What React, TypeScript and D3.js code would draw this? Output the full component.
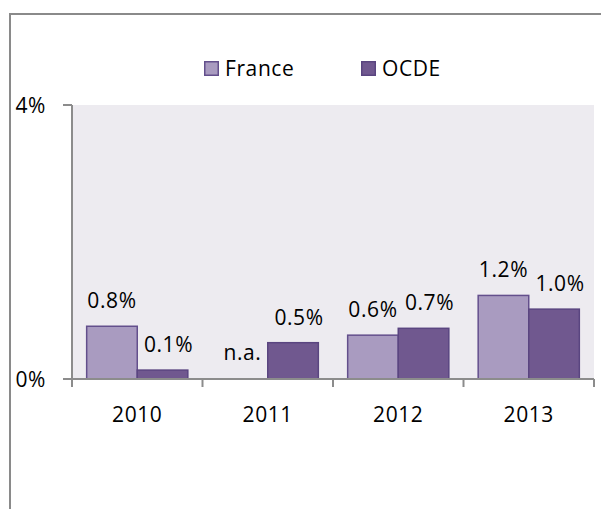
import * as d3 from "d3";
import { useEffect, useRef } from "react";

const YEARS = ["2010", "2011", "2012", "2013"];
const SERIES = ["France", "OCDE"];
// null = n.a.
const FRANCE: (number | null)[] = [0.77, null, 0.64, 1.22];
const OCDE: (number | null)[] = [0.13, 0.53, 0.74, 1.02];
const Y_TICKS = [0, 4];

const COLORS = ["#a99bc0", "#70588f"];
const STROKES = ["#634f8c", "#5a4580"];
const FONT = "'Open Sans', sans-serif";
const FS = 21;
const LS = 0.6;

export default function App() {
  const ref = useRef<SVGSVGElement | null>(null);

  useEffect(() => {
    document.body.style.margin = "0";
    const svg = d3.select(ref.current);
    svg.selectAll("*").remove();

    const width = 601;
    const height = 509;
    const left = 72;
    const right = 594;
    const top = 105;
    const bottom = 379;

    const label = (sel: d3.Selection<SVGTextElement, unknown, null, undefined>) =>
      sel.attr("font-family", FONT).attr("font-size", FS).attr("letter-spacing", LS).attr("fill", "#000");

    // outer frame (clipped at right and bottom)
    svg.append("path")
      .attr("d", `M10,${height} L10,14 L${width},14`)
      .attr("fill", "none")
      .attr("stroke", "#8a8a8a")
      .attr("stroke-width", 2);

    const x = d3.scaleBand().domain(YEARS).range([left, right]).paddingInner(0).paddingOuter(0);
    const inner = d3.scaleBand().domain(SERIES).range([0, x.bandwidth()]).paddingOuter(0.29).paddingInner(0);
    const y = d3.scaleLinear().domain([0, 4]).range([bottom, top]);

    svg.append("rect")
      .attr("x", left)
      .attr("y", top)
      .attr("width", right - left)
      .attr("height", bottom - top)
      .attr("fill", "#edebf0");

    const data = [FRANCE, OCDE];
    data.forEach((vals, si) => {
      vals.forEach((v, i) => {
        const bx = (x(YEARS[i]) ?? 0) + (inner(SERIES[si]) ?? 0);
        const bw = inner.bandwidth();
        if (v === null) {
          svg.append("text")
            .attr("x", bx + bw / 2)
            .attr("y", y(0) - 19)
            .attr("text-anchor", "middle")
            .call(label)
            .text("n.a.");
          return;
        }
        svg.append("rect")
          .attr("x", bx)
          .attr("y", y(v))
          .attr("width", bw)
          .attr("height", y(0) - y(v))
          .attr("fill", COLORS[si])
          .attr("stroke", STROKES[si])
          .attr("stroke-width", 1.5);
        svg.append("text")
          .attr("x", bx + bw / 2 + (si === 1 ? 6 : 0))
          .attr("y", y(v) - 18)
          .attr("text-anchor", "middle")
          .call(label)
          .text(`${v.toFixed(1)}%`);
      });
    });

    const axisColor = "#8c8c8c";
    // y axis
    svg.append("line")
      .attr("x1", left).attr("x2", left)
      .attr("y1", top).attr("y2", bottom)
      .attr("stroke", axisColor).attr("stroke-width", 2);
    Y_TICKS.forEach((t) => {
      svg.append("line")
        .attr("x1", 63).attr("x2", left)
        .attr("y1", y(t)).attr("y2", y(t))
        .attr("stroke", axisColor).attr("stroke-width", 2);
      svg.append("text")
        .attr("x", 46)
        .attr("y", y(t))
        .attr("dy", "0.36em")
        .attr("text-anchor", "end")
        .call(label)
        .text(`${t}%`);
    });

    // x axis
    svg.append("line")
      .attr("x1", 63).attr("x2", right)
      .attr("y1", bottom).attr("y2", bottom)
      .attr("stroke", axisColor).attr("stroke-width", 2);
    [...YEARS.map((d) => x(d) ?? 0), right].forEach((tx) => {
      svg.append("line")
        .attr("x1", tx).attr("x2", tx)
        .attr("y1", bottom).attr("y2", bottom + 8)
        .attr("stroke", axisColor).attr("stroke-width", 2);
    });
    YEARS.forEach((d) => {
      svg.append("text")
        .attr("x", (x(d) ?? 0) + x.bandwidth() / 2)
        .attr("y", 422)
        .attr("text-anchor", "middle")
        .call(label)
        .text(d);
    });

    // legend
    const legendX = [204, 361];
    SERIES.forEach((s, i) => {
      svg.append("rect")
        .attr("x", legendX[i] + 0.75)
        .attr("y", 61.75)
        .attr("width", 13.5)
        .attr("height", 13.5)
        .attr("fill", COLORS[i])
        .attr("stroke", STROKES[i])
        .attr("stroke-width", 1.5);
      svg.append("text")
        .attr("x", legendX[i] + 21)
        .attr("y", 76)
        .call(label)
        .text(s);
    });
  }, []);

  return <svg ref={ref} width={601} height={509} style={{ display: "block" }} />;
}
